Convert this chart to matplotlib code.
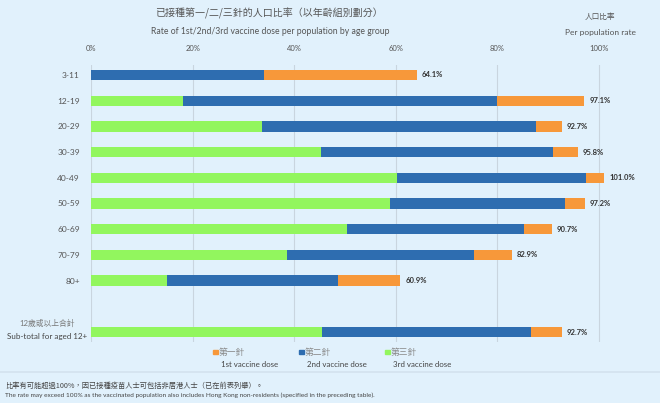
import matplotlib
matplotlib.use("Agg")
import matplotlib.pyplot as plt
import numpy as np

plt.rcParams['font.family'] = ['Lato', 'Noto Sans CJK TC', 'DejaVu Sans']

categories = ["3-11", "12-19", "20-29", "30-39", "40-49", "50-59", "60-69", "70-79", "80+", "",
              "12歲或以上合計\nSub-total for aged 12+"]
first_dose = [64.1, 97.1, 92.7, 95.8, 101.0, 97.2, 90.7, 82.9, 60.9, None, 92.7]
second_dose = [34.1, 79.9, 87.5, 90.9, 97.4, 93.4, 85.2, 75.3, 48.6, None, 86.6]
third_dose = [0.0, 18.2, 33.7, 45.2, 60.2, 58.9, 50.3, 38.6, 15.0, None, 45.4]
xticks = [0, 20, 40, 60, 80, 100]
xtick_labels = ["0%", "20%", "40%", "60%", "80%", "100%"]

c_first = "#F7983A"
c_second = "#2E6DB0"
c_third = "#92F65E"
bg = "#E1F1FC"
txt = "#555555"

fig = plt.figure(figsize=(6.6, 4.03), dpi=100, facecolor=bg)
ax = fig.add_axes([91/660, 1-342.3/403, (620-91)/660, (342.3-64.7)/403])
ax.set_facecolor(bg)

ypos = np.arange(len(categories))
h = 0.4
for i in ypos:
    if first_dose[i] is None:
        continue
    t, s, f = third_dose[i], second_dose[i], first_dose[i]
    ax.barh(i, t, height=h, color=c_third, clip_on=False, zorder=3)
    ax.barh(i, s - t, left=t, height=h, color=c_second, clip_on=False, zorder=3)
    ax.barh(i, f - s, left=s, height=h, color=c_first, clip_on=False, zorder=3)
    ax.text(f + 1.0, i, f"{f:.1f}%", va="center", ha="left", fontsize=5.5,
            fontweight="bold", color="#333333")

ax.set_xlim(0, (620-91)/5.08)
ax.set_ylim(10.4, -0.4)
ax.set_xticks(xticks)
ax.set_xticklabels(xtick_labels, fontsize=5.5, color=txt)
ax.xaxis.tick_top()
ax.tick_params(axis="x", length=0, pad=9)
ax.set_yticks(ypos[:-1])
ax.set_yticklabels(categories[:-1], fontsize=6, color=txt)
ax.tick_params(axis="y", length=0, pad=8)
ax.grid(axis="x", color="#C9D5DF", linewidth=0.8, zorder=0)
for sp in ax.spines.values():
    sp.set_visible(False)

# subtotal label (two lines, centred)
zh_sub, en_sub = categories[-1].split("\n")
fig.text(47.5/660, 1-323/403, zh_sub, ha="center", va="center", fontsize=5.6, color="#777777")
fig.text(47.5/660, 1-336/403, en_sub, ha="center", va="center", fontsize=5.8, color="#444444")

# titles
fig.text(269/660, 1-13/403, "已接種第一/二/三針的人口比率（以年齡組別劃分）", ha="center", va="center",
         fontsize=7.2, color=txt, family=['Noto Sans CJK TC'])
fig.text(270/660, 1-32/403, "Rate of 1st/2nd/3rd vaccine dose per population by age group", ha="center",
         va="center", fontsize=6.2, color=txt)
fig.text(600/660, 1-17/403, "人口比率", ha="center", va="center", fontsize=5.5, color=txt,
         family=['Noto Sans CJK TC'])
fig.text(600/660, 1-32/403, "Per population rate", ha="center", va="center", fontsize=6, color=txt)

# legend
leg = [(c_first, "第一針", "1st vaccine dose", 213),
       (c_second, "第二針", "2nd vaccine dose", 299),
       (c_third, "第三針", "3rd vaccine dose", 385)]
for col, zh, en, x in leg:
    fig.patches.append(plt.Rectangle((x/660, 1-354/403), 4.5/660, 4.5/403, color=col,
                                     transform=fig.transFigure, figure=fig))
    fig.text((x+6)/660, 1-352/403, zh, ha="left", va="center", fontsize=6.3, color="#888888",
             family=['Noto Sans CJK TC'])
    fig.text((x+8)/660, 1-364.5/403, en, ha="left", va="center", fontsize=5.7, color="#444444")

# separator
fig.add_artist(plt.Line2D([0, 1], [1-372/403, 1-372/403], color="#D3E2EE", linewidth=1.2,
                          transform=fig.transFigure))

fig.text(5/660, 1-385.5/403, "比率有可能超過100%，因已接種疫苗人士可包括非居港人士（已在前表列舉）。",
         ha="left", va="center", fontsize=5.2, color="#444444",
         family=['Noto Sans CJK TC', 'DejaVu Sans'])
fig.text(5/660, 1-395.5/403,
         "The rate may exceed 100% as the vaccinated population also includes Hong Kong non-residents (specified in the preceding table).",
         ha="left", va="center", fontsize=4.65, color="#444444")

fig.savefig("out.png", dpi=100, facecolor=bg)
